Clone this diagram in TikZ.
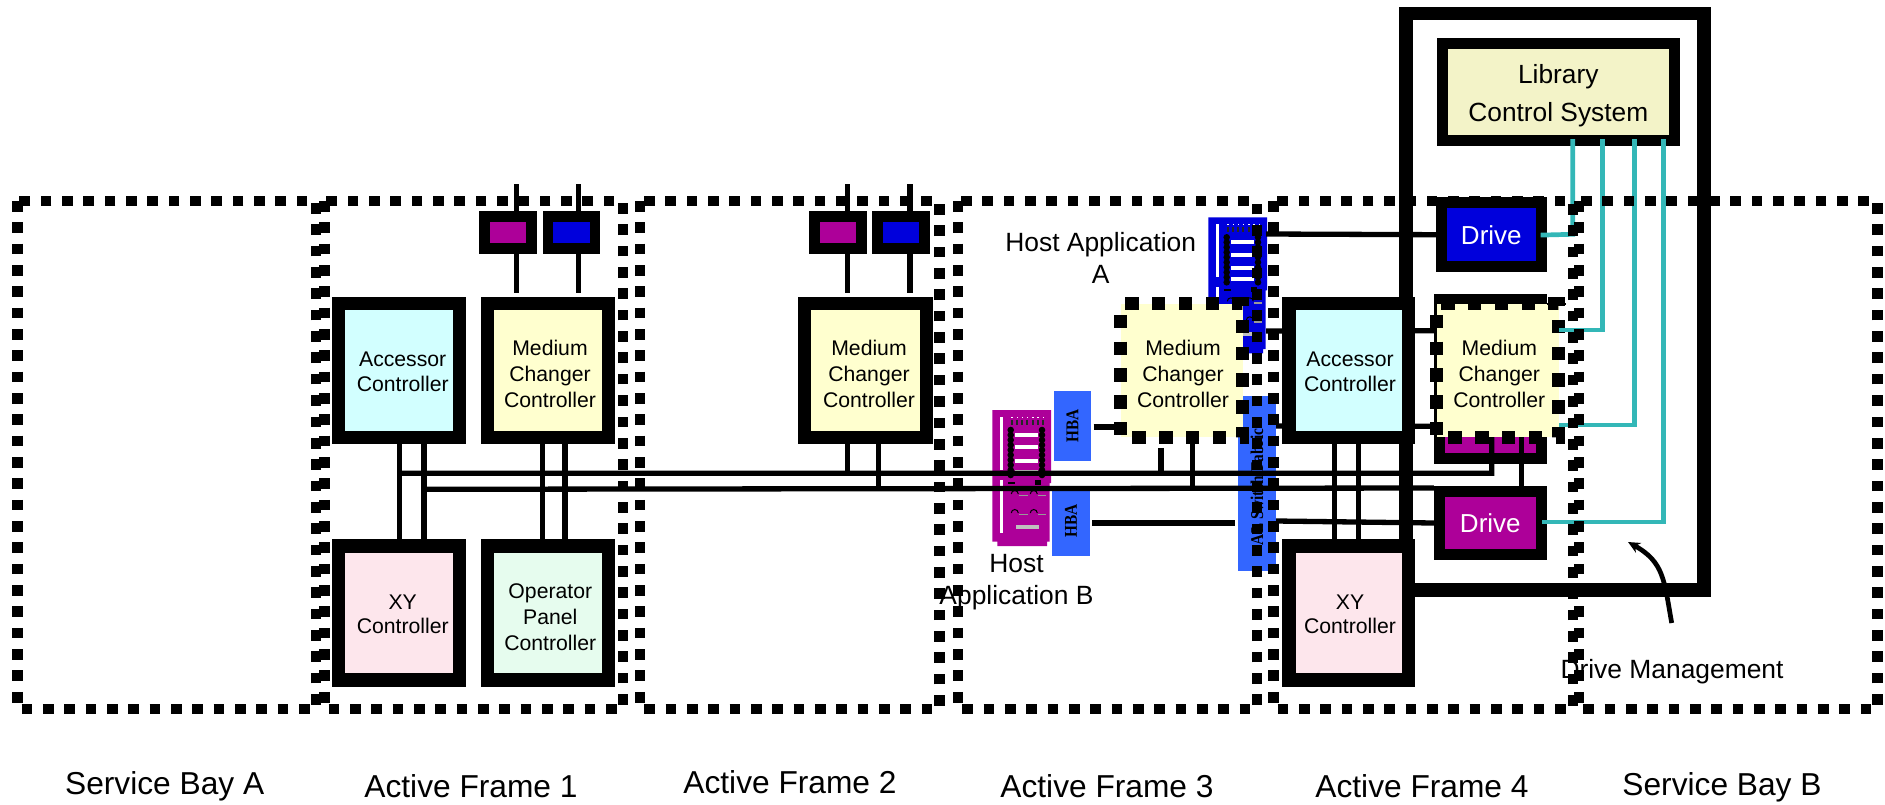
\documentclass[tikz,border=0pt]{standalone}
\usepackage{fontspec}
\setmainfont{Liberation Sans}
\newfontfamily\hbafont[FakeStretch=0.85]{Liberation Serif}
\usetikzlibrary{arrows.meta}
\definecolor{cyellow}{HTML}{FFFFCF}
\definecolor{ccyan}{HTML}{D2FFFF}
\definecolor{cpink}{HTML}{FDE6EC}
\definecolor{cgreen}{HTML}{E6FCEE}
\definecolor{clib}{HTML}{F3F3C8}
\definecolor{cmag}{HTML}{AD0099}
\definecolor{cblue}{HTML}{0000DC}
\definecolor{chba}{HTML}{3366FF}
\definecolor{cteal}{HTML}{33B7B7}
\tikzset{
  framedash/.style={draw=black,line width=10.67pt,dash pattern=on 10.67pt off 10.67pt},
  meddash/.style={draw=black,line width=13.3pt,dash pattern=on 13.4pt off 13.4pt,dash phase=15.3pt},
  ctrl/.style={draw=black,line width=13.3pt,inner sep=0pt},
  drivebox/.style={draw=black,line width=11pt,inner sep=0pt},
  wire/.style={draw=black,line width=5.3pt},
  tealwire/.style={draw=cteal,line width=4.7pt},
  ctext/.style={inner sep=0pt,align=center,font=\fontsize{21.2}{26}\selectfont},
  btext/.style={inner sep=0pt,align=center,font=\fontsize{26.4}{32}\selectfont},
  ftext/.style={inner sep=0pt,anchor=center,font=\fontsize{31.7}{36}\selectfont},
  hba/.style={fill=chba,rotate=90,inner sep=0pt,font=\hbafont\bfseries\fontsize{18}{20}\selectfont},
}
\newcommand{\serverpic}[3]{%
  \begin{scope}[shift={(#1,#2)}]
    \fill[#3] (0,0) -- (58.7,0) -- (58.7,73) -- (57.4,73) -- (57.4,131.7) -- (54.7,131.7) -- (54.7,136) -- (5,136) -- (5,131.7) -- (0,131.7) -- cycle;
    \fill[white] (7.7,6.7) rectangle (10.4,60);
    \fill[white] (7.7,70) rectangle (10.4,122.7);
    \foreach \t in {0,...,6}{
      \fill[white] (19+5.2*\t,6.5) rectangle ++(1.4,1.4);
      \fill[black!85] (18.5+5.2*\t,9.5) rectangle ++(2,5);
    }
    \foreach \t in {22.7,35.3,48.7,60}{\fill[white] (22.7,\t) rectangle ++(23,4);}
    \foreach \t in {20,25,...,65}{
      \fill[black] (18.4,\t) circle[radius=3.3];
      \fill[black] (49.7,\t) circle[radius=3.3];
    }
    \fill[black] (43,70) rectangle ++(6,5);
    \fill[black] (16,72) rectangle ++(7,1.5);
    \foreach \t in {84,103}{
      \draw[black,line width=1pt] (19,\t) arc[start angle=180,end angle=360,radius=3.5];
      \draw[black,line width=1pt] (38,\t) arc[start angle=180,end angle=360,radius=3.5];
      \fill[black!40] (27,\t+1) rectangle ++(9,1.3);
      \fill[black!40] (46,\t+1) rectangle ++(8,1.3);
    }
    \fill[black!25] (24,115) rectangle ++(23,4);
  \end{scope}}
\begin{document}
\begin{tikzpicture}[x=1pt,y=-1pt]
\useasboundingbox (0,0) rectangle (1885,804);
% hosts, HBAs and fabric
\serverpic{992.3}{410}{cmag}
\serverpic{1208.3}{217.3}{cblue}
\node[hba,minimum width=69.7pt,minimum height=37.6pt] (hba1) at (1072.5,426.2) {HBA};
\node[hba,minimum width=69.3pt,minimum height=38pt] (hba2) at (1071,521.3) {HBA};
\node[hba,minimum width=174.7pt,minimum height=37.7pt] (fabric) at (1256.9,483.3) {\hspace*{-7pt}AL Switch Fabric};
% coordinates of the buses
\coordinate (busAs) at (399.3,473.3);
\coordinate (busAe) at (1491.7,473.3);
\coordinate (busBs) at (424,489.3);
\coordinate (hostAe) at (1266,234);
\coordinate (fabA) at (1276,426);
\coordinate (fabB) at (1276,521);
\coordinate (hostAm) at (1266,331);
% nodes that lines run into
\node[drivebox,fill=cblue,text=white,font=\fontsize{26}{30}\selectfont,minimum width=99.7pt,minimum height=64.3pt] (drvA) at (1491.3,234.7) {Drive};
\node[drivebox,fill=cmag,text=white,font=\fontsize{26}{30}\selectfont,minimum width=101.7pt,minimum height=63pt] (drvB) at (1490.3,523) {\raisebox{-1pt}{Drive}};
\node[drivebox,fill=cmag,minimum width=101.7pt,minimum height=159.3pt] (drvC) at (1490.3,379.2) {};
\node[fill=cyellow,inner sep=0pt,minimum width=121.5pt,minimum height=133.5pt] (m3) at (1181.75,370.25) {};
\node[fill=cyellow,inner sep=0pt,minimum width=121.5pt,minimum height=133.5pt] (m4) at (1497.75,370.25) {};
% wires
\draw[wire] (hostAe) -- (drvA.west);
\draw[wire] (fabB) -- (drvB.west);
\draw[wire] (hba2.south) ++(2,1.7) -- (1235,523);
\draw[wire] (hba1.south) ++(2,0.8) -- (m3.west |- 0,427);
\draw[wire] (hostAm) -- ([yshift=-27.5pt]m4.north west);
\draw[wire] (fabA) -- ([yshift=11pt]m4.south west);
\draw[wire] (busBs) -- ([yshift=-2pt]drvB.north west);
\draw[wire] (busAs) -- (busAe) -- ([xshift=-6pt]m4.south);
\draw[wire] ([xshift=24pt]m4.south) -- ([xshift=24pt]m4.south |- drvB.north);
\draw[wire] ([xshift=-20.75pt,yshift=-10.7pt]m3.south) -- ++(0,26);
\draw[wire] ([xshift=10.5pt]m3.south) -- ++(0,52);
% drive management enclosure
\node[ctrl,minimum width=298pt,minimum height=576.3pt] (mgmt) at (1555,301.85) {};
% controllers
\node[ctrl,fill=ccyan,minimum width=120.7pt,minimum height=134pt] (acc1) at (399,370.3) {};
\node[ctrl,fill=cyellow,minimum width=120.7pt,minimum height=134pt] (med1) at (548,370.3) {};
\node[ctrl,fill=cpink,minimum width=120.7pt,minimum height=134pt] (xy1) at (399,613) {};
\node[ctrl,fill=cgreen,minimum width=120.7pt,minimum height=134pt] (op1) at (548,613) {};
\node[ctrl,fill=cyellow,minimum width=122pt,minimum height=134pt] (med2) at (865.35,370.3) {};
\node[ctrl,fill=ccyan,minimum width=119.4pt,minimum height=134pt] (acc4) at (1348.65,370.3) {};
\node[ctrl,fill=cpink,minimum width=119.4pt,minimum height=134pt] (xy4) at (1348.65,613) {};
% verticals between controllers
\draw[wire] ([xshift=0.3pt]acc1.south) -- ([xshift=0.3pt]xy1.north);
\draw[wire] ([xshift=25pt]acc1.south) -- ([xshift=25pt]xy1.north);
\draw[wire] ([xshift=-5.7pt]med1.south) -- ([xshift=-5.7pt]op1.north);
\draw[wire] ([xshift=17pt]med1.south) -- ([xshift=17pt]op1.north);
\draw[wire] ([xshift=-14.5pt]acc4.south) -- ([xshift=-14.5pt]xy4.north);
\draw[wire] ([xshift=9.5pt]acc4.south) -- ([xshift=9.5pt]xy4.north);
\draw[wire] ([xshift=-17.65pt]med2.south) -- ++(0,29);
\draw[wire] ([xshift=13.35pt]med2.south) -- ++(0,45);
% small drives
\node[drivebox,line width=10.7pt,fill=cmag,minimum width=47pt,minimum height=32.3pt] (p1) at (508.15,232.5) {};
\node[drivebox,line width=10.7pt,fill=cblue,minimum width=47pt,minimum height=32.3pt] (b1) at (571.35,232.5) {};
\node[drivebox,line width=10.7pt,fill=cmag,minimum width=47pt,minimum height=32.3pt] (p2) at (837.85,232.5) {};
\node[drivebox,line width=10.7pt,fill=cblue,minimum width=47pt,minimum height=32.3pt] (b2) at (900.7,232.5) {};
\draw[wire] ([xshift=8.5pt]p1.north) -- ++(0,-27);
\draw[wire] ([xshift=7.3pt]b1.north) -- ++(0,-27);
\draw[wire] ([xshift=9.85pt]p2.north) -- ++(0,-27);
\draw[wire] ([xshift=9.3pt]b2.north) -- ++(0,-27);
\draw[wire] ([xshift=8.5pt]p1.south) -- ++(0,39);
\draw[wire] ([xshift=7.3pt]b1.south) -- ++(0,39);
\draw[wire] ([xshift=9.85pt]p2.south) -- ++(0,39);
\draw[wire] ([xshift=9.3pt]b2.south) -- ++(0,39);
% dashed outlines of the changers
\draw[meddash] (m3.north west) -- (m3.south west) -- (m3.south east) -- (m3.north east) -- cycle;
\draw[meddash] (m4.north west) -- (m4.south west) -- (m4.south east) -- (m4.north east) -- cycle;
\draw[draw=black,line width=2pt] ([xshift=-12pt,yshift=-0.5pt]m4.north east) -- ++(19,0);
% library control system
\node[drivebox,fill=clib,minimum width=232.3pt,minimum height=96.7pt] (lib) at (1558.3,92.2) {};
% drive management lines
\coordinate (t1) at (1572.7,139);
\coordinate (t2) at (1602.7,139);
\coordinate (t3) at (1634.2,139);
\coordinate (t4) at (1663.2,139);
\draw[tealwire] (t1) -- (1572.7,234.3) -- ([xshift=-6pt,yshift=-0.4pt]drvA.east);
\draw[tealwire] (t2) -- (1602.7,330) -- ([yshift=40.25pt]m4.east);
\draw[tealwire] (t3) -- (1634.2,425) -- ([yshift=-54.75pt]m4.east);
\draw[tealwire] (t4) -- (1663.2,522) -- ([xshift=-5pt,yshift=1pt]drvB.east);
% frames
\draw[framedash] (17.5,201) -- (17.5,709) -- (316,709) -- (316,201) -- cycle;
\draw[framedash] (324.5,201) -- (324.5,709) -- (623,709) -- (623,201) -- cycle;
\draw[framedash] (640,201) -- (640,709) -- (939.5,709) -- (939.5,201) -- cycle;
\draw[framedash] (958,201) -- (958,709) -- (1257,709) -- (1257,201) -- cycle;
\draw[framedash] (1273.5,201) -- (1273.5,709) -- (1573,709) -- (1573,201) -- cycle;
\draw[framedash] (1579,201) -- (1579,709) -- (1877.5,709) -- (1877.5,201) -- cycle;
% pointer
\coordinate (ptrS) at (1671.7,623);
\coordinate (ptrE) at (1628,542);
\draw[line width=4.7pt,-{Stealth[length=12pt,width=11pt]}] (ptrS) .. controls (1664,580) and (1664,562) .. (ptrE);
% texts
\node[ctext] (tacc1) at (402.7,372) {Accessor\\[-1.6pt]Controller};
\node[ctext] (tmed1) at (550,374) {Medium\\Changer\\Controller};
\node[ctext] (txy1) at (402.7,614) {XY\\[-1.6pt]Controller};
\node[ctext] (top1) at (550.3,617) {Operator\\Panel\\Controller};
\node[ctext] (tmed2) at (869,374) {Medium\\Changer\\Controller};
\node[ctext] (tmed3) at (1183,374) {Medium\\Changer\\Controller};
\node[ctext] (tmed4) at (1499.3,374) {Medium\\Changer\\Controller};
\node[ctext] (tacc4) at (1350,372) {Accessor\\[-1.6pt]Controller};
\node[ctext] (txy4) at (1350,614) {XY\\[-1.6pt]Controller};
\node[btext,font=\fontsize{26.3}{37.7}\selectfont] (tlib) at (1558.3,95.5) {Library\\Control System};
\node[btext] (thA) at (1100.7,257.5) {Host Application\\A};
\node[btext] (thB) at (1016.5,582) {Host\\Application B};
\node[btext] (tdm) at (1672,672) {Drive Management};
\node[ftext] (f1) at (164.7,786) {Service Bay A};
\node[ftext] (f2) at (471,786) {Active Frame 1};
\node[ftext] (f3) at (790,782.5) {Active Frame 2};
\node[ftext] (f4) at (1107,786) {Active Frame 3};
\node[ftext] (f5) at (1422,786) {Active Frame 4};
\node[ftext] (f6) at (1722,787) {Service Bay B};
\end{tikzpicture}
\end{document}
